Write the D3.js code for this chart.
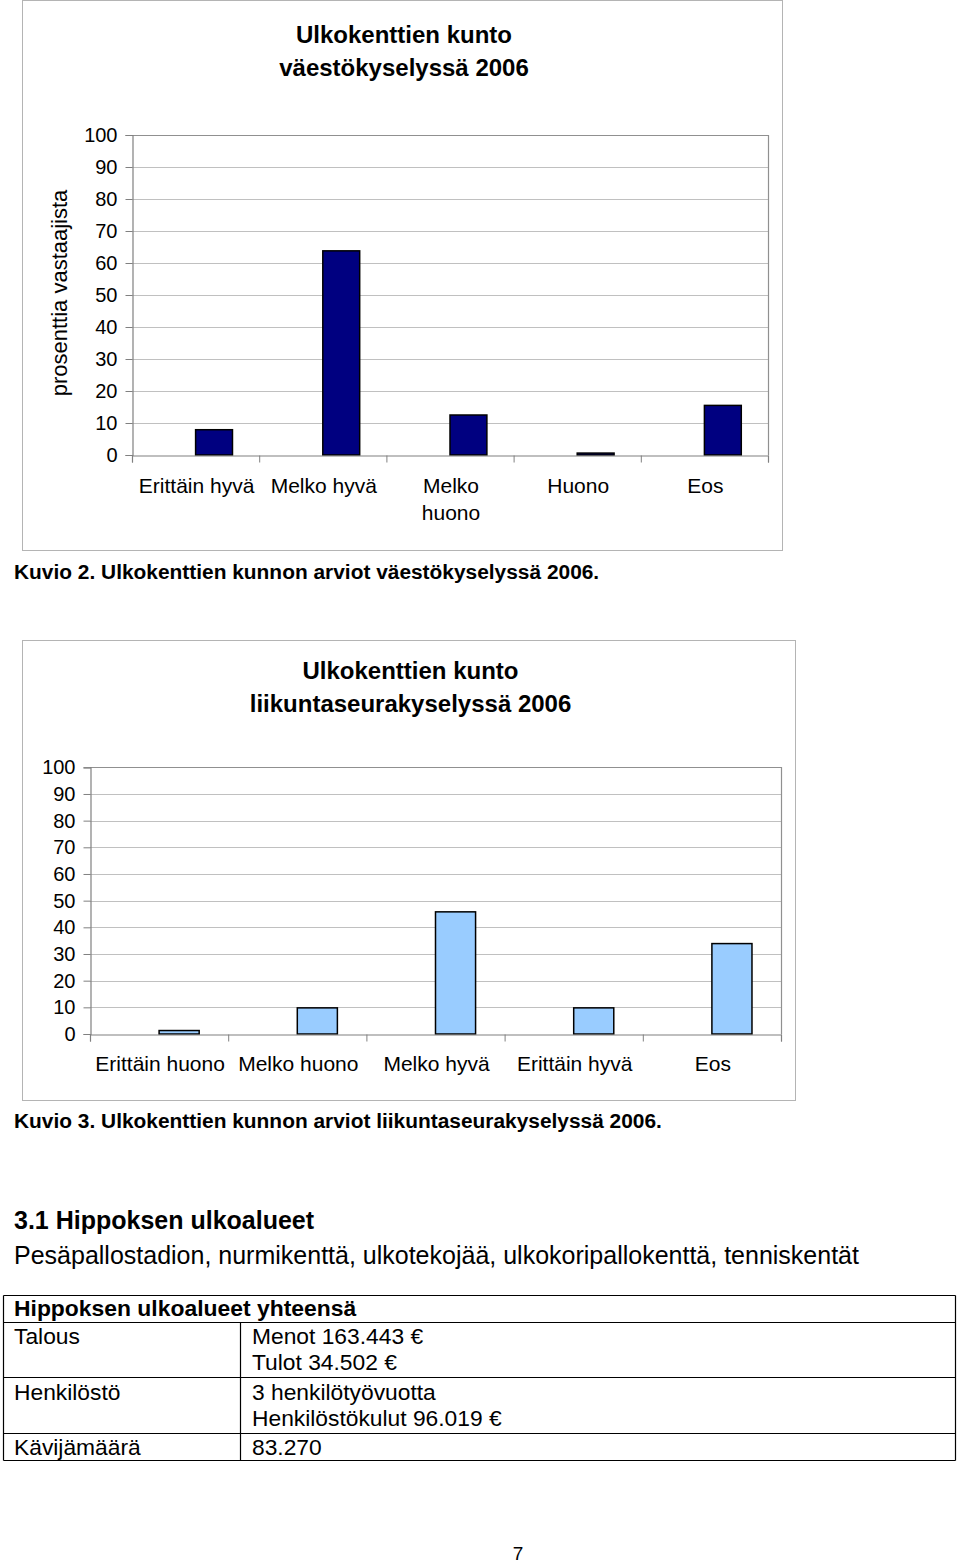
<!DOCTYPE html>
<html>
<head>
<meta charset="utf-8">
<script src="https://cdn.jsdelivr.net/npm/d3@7"></script>
<style>
  html, body { margin: 0; padding: 0; background: #fff; }
  svg { display: block; font-family: "Liberation Sans", Arial, Helvetica, sans-serif; }
</style>
</head>
<body>
<svg id="page" width="960" height="1563"></svg>
<script>
// ---------- data ----------
const yTicks = [0, 10, 20, 30, 40, 50, 60, 70, 80, 90, 100];

const chart1Title = ["Ulkokenttien kunto", "väestökyselyssä 2006"];
const chart1Categories = ["Erittäin hyvä", "Melko hyvä", "Melko\nhuono", "Huono", "Eos"];
const chart1Values = [7.9, 63.8, 12.5, 0.6, 15.5];
const chart1YLabel = "prosenttia vastaajista";
const chart1Caption = "Kuvio 2. Ulkokenttien kunnon arviot väestökyselyssä 2006.";

const chart2Title = ["Ulkokenttien kunto", "liikuntaseurakyselyssä 2006"];
const chart2Categories = ["Erittäin huono", "Melko huono", "Melko hyvä", "Erittäin hyvä", "Eos"];
const chart2Values = [1.3, 9.8, 45.8, 9.8, 33.9];
const chart2Caption = "Kuvio 3. Ulkokenttien kunnon arviot liikuntaseurakyselyssä 2006.";

const sectionHeading = "3.1 Hippoksen ulkoalueet";
const sectionText = "Pesäpallostadion, nurmikenttä, ulkotekojää, ulkokoripallokenttä, tenniskentät";

const tableHeader = "Hippoksen ulkoalueet yhteensä";
const tableLabels = ["Talous", "Henkilöstö", "Kävijämäärä"];
const tableValues = [["Menot 163.443 €", "Tulot 34.502 €"], ["3 henkilötyövuotta", "Henkilöstökulut 96.019 €"], ["83.270"]];
const pageNumber = "7";

// ---------- drawing ----------
const svg = d3.select("#page");

function drawChart(cfg) {
  const g = svg.append("g");
  // outer frame
  g.append("rect")
    .attr("x", cfg.frame[0] + 0.5).attr("y", cfg.frame[1] + 0.5)
    .attr("width", cfg.frame[2] - cfg.frame[0]).attr("height", cfg.frame[3] - cfg.frame[1])
    .attr("fill", "#fff").attr("stroke", "#b4b4b4").attr("stroke-width", 1);

  // title
  const fcx = (cfg.frame[0] + cfg.frame[2]) / 2 + 2;
  cfg.title.forEach((t, i) => {
    g.append("text").attr("x", fcx).attr("y", cfg.titleY + i * 33)
      .attr("text-anchor", "middle").attr("font-size", 24).attr("font-weight", "bold")
      .attr("fill", "#000").text(t);
  });

  const x = d3.scaleBand().domain(cfg.categories).range([cfg.left, cfg.right]).padding(0);
  const y = d3.scaleLinear().domain([0, 100]).range([cfg.bottom, cfg.top]);

  // gridlines
  g.append("g").selectAll("line").data(yTicks.filter(d => d > 0 && d < 100)).join("line")
    .attr("x1", cfg.left).attr("x2", cfg.right)
    .attr("y1", d => Math.round(y(d)) + 0.5).attr("y2", d => Math.round(y(d)) + 0.5)
    .attr("stroke", "#c0c0c0").attr("stroke-width", 1);

  // plot border (top + right)
  g.append("path")
    .attr("d", `M${cfg.left},${Math.round(cfg.top) + 0.5}H${cfg.right + 0.5}V${cfg.bottom}`)
    .attr("fill", "none").attr("stroke", "#909090").attr("stroke-width", 1.2);

  // bars
  const bw = x.bandwidth() * 0.29;
  g.append("g").selectAll("rect").data(cfg.values).join("rect")
    .attr("x", (d, i) => x(cfg.categories[i]) + x.bandwidth() / 2)
    .attr("y", d => y(d))
    .attr("width", bw)
    .attr("height", d => y(0) - y(d))
    .attr("fill", cfg.barColor).attr("stroke", "#000").attr("stroke-width", 1.5);

  // y axis
  const yAxis = d3.axisLeft(y).tickValues(yTicks).tickSize(7).tickPadding(8).tickFormat(d3.format("d"));
  const ya = g.append("g").attr("transform", `translate(${cfg.left + 0.5},0)`).call(yAxis);
  ya.select(".domain").attr("stroke", "#808080").attr("stroke-width", 1.2);
  ya.selectAll(".tick line").attr("stroke", "#808080");
  ya.selectAll(".tick text").attr("font-size", 20).attr("fill", "#000")
    .attr("font-family", "'Liberation Sans', Arial, sans-serif");

  // x axis
  const xb = d3.scaleLinear().domain([0, cfg.categories.length]).range([cfg.left, cfg.right]);
  const xAxis = d3.axisBottom(xb).tickValues(d3.range(cfg.categories.length + 1)).tickSize(7).tickFormat("");
  const xa = g.append("g").attr("transform", `translate(0,${Math.round(cfg.bottom) + 0.5})`).call(xAxis);
  xa.select(".domain").attr("stroke", "#808080").attr("stroke-width", 1.2);
  xa.selectAll(".tick line").attr("stroke", "#808080");

  // category labels
  cfg.categories.forEach(c => {
    const lines = c.split("\n");
    const t = g.append("text").attr("text-anchor", "middle").attr("font-size", 21).attr("fill", "#000");
    lines.forEach((ln, i) => {
      t.append("tspan").attr("x", x(c) + x.bandwidth() / 2 + 1).attr("y", cfg.labelY + i * 27).text(ln);
    });
  });

  if (cfg.yLabel) {
    g.append("text")
      .attr("transform", `translate(${cfg.yLabelX},${(cfg.top + cfg.bottom) / 2 - 2}) rotate(-90)`)
      .attr("text-anchor", "middle").attr("font-size", 22).attr("fill", "#000").text(cfg.yLabel);
  }

  svg.append("text").attr("x", 14).attr("y", cfg.captionY)
    .attr("font-size", 20.9).attr("font-weight", "bold").attr("fill", "#000").text(cfg.caption);
}

drawChart({
  frame: [22, 0, 782, 550],
  title: chart1Title, titleY: 43,
  categories: chart1Categories, values: chart1Values,
  left: 132, right: 768, top: 135, bottom: 455,
  barColor: "#000080",
  labelY: 493,
  yLabel: chart1YLabel, yLabelX: 67,
  caption: chart1Caption, captionY: 579
});

drawChart({
  frame: [22, 640, 795, 1100],
  title: chart2Title, titleY: 679,
  categories: chart2Categories, values: chart2Values,
  left: 90, right: 781, top: 767.3, bottom: 1034,
  barColor: "#99ccff",
  labelY: 1071,
  yLabel: null,
  caption: chart2Caption, captionY: 1128
});

// section text
svg.append("text").attr("x", 14).attr("y", 1229).attr("font-size", 25).attr("font-weight", "bold").text(sectionHeading);
svg.append("text").attr("x", 14).attr("y", 1264).attr("font-size", 25).text(sectionText);

// table
const tbl = svg.append("g");
const tL = 3.5, tR = 955.5, colX = 240.5;
const rowLines = [1295.5, 1322.5, 1377.5, 1433.5, 1460.5];
tbl.append("g").selectAll("line").data(rowLines).join("line")
  .attr("x1", tL).attr("x2", tR).attr("y1", d => d).attr("y2", d => d)
  .attr("stroke", "#000").attr("stroke-width", 1.2);
tbl.append("line").attr("x1", tL).attr("x2", tL).attr("y1", rowLines[0]).attr("y2", rowLines[4]).attr("stroke", "#000").attr("stroke-width", 1.2);
tbl.append("line").attr("x1", tR).attr("x2", tR).attr("y1", rowLines[0]).attr("y2", rowLines[4]).attr("stroke", "#000").attr("stroke-width", 1.2);
tbl.append("line").attr("x1", colX).attr("x2", colX).attr("y1", rowLines[1]).attr("y2", rowLines[4]).attr("stroke", "#000").attr("stroke-width", 1.2);

tbl.append("text").attr("x", 14).attr("y", 1316).attr("font-size", 22.9).attr("font-weight", "bold").text(tableHeader);
const rowBase = [1344, 1400, 1455];
tableLabels.forEach((lab, i) => {
  tbl.append("text").attr("x", 14).attr("y", rowBase[i]).attr("font-size", 22.8).text(lab);
  tableValues[i].forEach((v, j) => {
    tbl.append("text").attr("x", 252).attr("y", rowBase[i] + j * 26).attr("font-size", 22.8).text(v);
  });
});

svg.append("text").attr("x", 518).attr("y", 1560).attr("text-anchor", "middle").attr("font-size", 19).text(pageNumber);
</script>
</body>
</html>
